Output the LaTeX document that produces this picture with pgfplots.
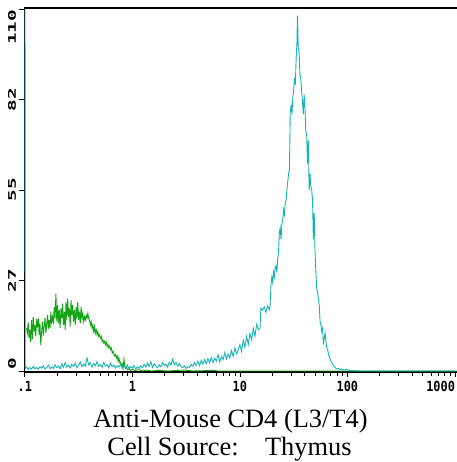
\documentclass[border=0pt]{standalone}
\usepackage{graphicx}
\usepackage{fontspec}
\setmainfont{Liberation Serif}
\newfontfamily\tickfont{DejaVu Sans Mono Bold}
\usepackage{pgfplots}
\pgfplotsset{compat=1.18}
\definecolor{cgreen}{RGB}{20,165,20}
\definecolor{ccyan}{RGB}{22,180,182}
\newcommand\xl[1]{\scalebox{0.85}[1]{\tickfont\fontsize{14}{14}\selectfont #1}}
\newcommand\yl[1]{\scalebox{1.85}[1]{\tickfont\fontsize{10.5}{10.5}\selectfont #1}}
\begin{document}
\begin{tikzpicture}
\begin{axis}[name=ax,
  scale only axis, width=433bp, height=364bp,
  xmin=-2, xmax=1029, ymin=-0.3, ymax=110.3,
  axis x line*=bottom, axis y line*=left,
  x axis line style={line width=1.3pt,-}, y axis line style={line width=0.8pt,-},
  tick align=outside, major tick length=4.5bp, minor tick length=4bp,
  tick style={black, line width=0.7pt},
  xtick={0,256,512,768,1024},
  xticklabels={\xl{.1},\xl{1},\xl{10},\xl{100},\makebox[0pt][r]{\xl{1000}}},
  minor xtick={77.06,122.14,154.13,178.94,199.21,216.35,231.19,244.29,
    333.06,378.14,410.13,434.94,455.21,472.35,487.19,500.29,
    589.06,634.14,666.13,690.94,711.21,728.35,743.19,756.29,
    845.06,890.14,922.13,946.94,967.21,984.35,999.19,1012.29},
  ytick={0,27.5,55,82.5,110},
  yticklabels={\makebox[0pt][l]{\hspace{2bp}\yl{0}},\yl{27},\yl{55},\yl{82},\makebox[0pt][r]{\yl{110}\hspace{1bp}}},
  xticklabel style={yshift=-1bp},
  yticklabel style={rotate=90, anchor=south, xshift=0bp},
]
\addplot[cgreen, line width=0.9pt, sharp plot] coordinates {
(4,13.0)(6,11.5)(8,14.8)(10,10.0)(12,12.5)(14,8.8)(16,15.5)(18,9.7)(20,16.5)(22,12.0)
(24,14.0)(26,10.5)(28,15.8)(30,13.2)(32,16.0)(34,11.0)(36,14.5)(38,7.8)(40,12.0)(42,15.0)
(44,10.8)(46,13.5)(48,16.2)(50,11.5)(52,14.0)(54,17.0)(56,12.8)(58,15.5)(60,13.0)(62,18.0)
(64,14.2)(66,16.5)(68,15.0)(70,19.5)(72,16.0)(74,23.5)(76,15.0)(78,20.0)(80,14.5)(82,18.5)
(84,13.0)(86,19.0)(88,16.0)(90,20.5)(92,14.0)(94,18.0)(96,12.5)(98,21.0)(100,15.5)(102,22.0)
(104,16.5)(106,19.0)(108,13.5)(110,21.5)(112,17.0)(114,20.0)(116,15.0)(118,18.5)(120,14.0)
(122,19.5)(124,16.0)(126,21.0)(128,15.5)(130,18.0)(132,14.5)(134,19.5)(136,16.0)(138,17.5)
(140,15.0)(142,16.5)(144,15.5)(146,17.0)(148,16.0)(150,17.5)(152,16.0)(154,15.5)(156,14.0)
(158,15.0)(160,13.0)(162,14.0)(164,12.0)(166,13.5)(168,11.5)(170,12.5)(172,11.0)(174,12.0)
(176,10.5)(178,11.0)(180,10.0)(182,10.5)(184,9.0)(186,9.5)(188,8.5)(190,9.0)(192,8.0)
(194,8.8)(196,7.5)(198,8.0)(200,7.0)(202,7.6)(204,6.5)(206,7.0)(208,5.5)(210,6.0)(212,5.2)
(214,4.5)(216,5.0)(218,4.0)(220,4.6)(222,3.0)(224,4.0)(226,2.5)(228,2.7)(230,1.8)(232,2.2)
(234,1.0)(236,3.6)(238,1.5)(240,0.8)(242,1.2)(244,0.4)(248,0.6)(252,0.2)(256,0.5)(262,0.1)
(270,0.4)(280,0)(290,0.3)(300,0)(320,0.2)(340,0)(380,0.3)(400,0)(450,0.2)(460,0)(1024,0)
};
\addplot[ccyan, line width=0.9pt, sharp plot] coordinates {
(0,200)(1,0.8)(4,1.2)(8,0.5)(12,1.0)(16,0.6)(20,1.4)(24,0.7)(28,1.1)(32,0.5)(36,1.3)(40,0.9)
(44,1.6)(48,0.6)(52,1.0)(56,1.8)(60,0.7)(64,1.2)(68,0.8)(72,1.9)(76,1.0)(80,1.5)(84,0.7)
(88,2.2)(92,1.1)(96,2.6)(100,1.2)(104,1.8)(108,0.9)(112,2.0)(116,1.4)(120,2.4)(124,1.0)
(128,1.7)(132,2.8)(136,1.3)(140,2.1)(144,1.5)(148,4.0)(152,1.8)(156,2.5)(160,1.2)(164,2.3)
(168,1.6)(172,2.9)(176,1.4)(180,2.0)(184,1.1)(188,2.6)(192,1.5)(196,1.9)(200,1.0)(204,2.4)
(208,1.3)(212,1.8)(216,0.9)(220,1.6)(224,1.2)(228,2.0)(232,0.8)(236,1.5)(240,1.0)(244,1.9)
(248,0.7)(252,1.3)(256,0.9)(260,1.7)(264,0.6)(268,1.2)(272,0.8)(276,1.6)(280,1.0)(284,2.0)
(288,1.2)(292,2.4)(296,1.4)(300,2.8)(304,1.1)(308,2.2)(312,1.5)(316,1.0)(320,1.9)(324,1.3)
(328,2.5)(332,1.6)(336,2.1)(340,1.2)(344,2.7)(348,1.8)(352,3.6)(356,1.9)(360,2.6)(364,1.5)
(368,2.2)(372,1.3)(376,1.0)(380,1.6)(384,0.8)(388,1.3)(392,1.1)(396,2.0)(400,1.4)(404,2.6)
(408,1.7)(412,3.0)(416,1.6)(420,3.2)(424,2.1)(428,3.5)(432,2.2)(436,3.8)(440,2.5)(444,4.1)
(448,2.6)(452,3.9)(456,3.0)(460,5.0)(464,2.8)(468,4.4)(472,3.4)(476,5.6)(480,3.7)(484,5.1)
(488,4.0)(492,6.2)(496,4.4)(500,7.0)(504,5.2)(508,6.4)(512,8.0)(516,6.0)(520,9.4)(524,7.2)
(528,10.5)(532,8.1)(536,11.3)(540,9.5)(544,13.0)(548,10.6)(552,14.2)(556,12.5)(560,13.0)
(562,19.0)(566,18.5)(570,19.5)(574,17.8)(578,19.8)(582,18.6)(584,20.0)(586,26.0)(588,28.5)
(590,27.0)(592,30.0)(594,28.5)(596,31.5)(598,32.0)(600,30.0)(602,34.0)(604,36.0)(606,42.0)
(608,43.5)(610,40.0)(612,44.5)(614,46.0)(616,49.0)(618,47.5)(620,51.0)(622,52.0)(624,55.0)
(626,57.5)(628,60.0)(630,61.0)(632,79.0)(634,80.5)(636,78.0)(638,83.0)(640,85.0)(642,89.0)
(644,87.0)(646,95.0)(648,100.0)(649,108.0)(650,104.0)(651,98.0)(653,97.0)(655,90.0)(657,89.0)
(659,85.0)(661,82.0)(663,78.0)(665,84.0)(667,80.0)(669,73.0)(671,72.0)(673,63.0)(675,70.0)
(677,55.0)(679,60.0)(681,56.0)(683,55.0)(685,52.0)(687,40.0)(689,48.0)(691,36.0)(693,30.0)
(695,25.0)(697,24.0)(699,22.0)(701,20.0)(703,15.0)(705,14.0)(707,12.0)(709,13.0)(711,8.0)
(713,10.0)(715,11.5)(717,9.0)(719,7.0)(721,6.5)(723,5.0)(725,4.6)(727,3.5)(729,3.0)(731,2.5)
(733,2.0)(735,1.6)(739,1.0)(743,0.6)(747,0.8)(751,0.4)(755,0.6)(760,0.3)(766,0.5)(772,0.2)
(780,0.1)(800,0)(1029,0)
};
\end{axis}
\draw[line width=2.2pt] (ax.north west) -- (ax.north east);
\node[anchor=base, font=\fontsize{26.5}{26.5}\selectfont] at ([xshift=-10bp,yshift=-55bp]ax.south) {Anti-Mouse CD4 (L3/T4)};
\node[anchor=base, font=\fontsize{26.5}{26.5}\selectfont] at ([xshift=-11bp,yshift=-83bp]ax.south) {Cell Source:\quad Thymus};
\pgfresetboundingbox
\path ([xshift=-24bp,yshift=-90bp]ax.south west) rectangle ([yshift=8bp]ax.north east);
\end{tikzpicture}
\end{document}
